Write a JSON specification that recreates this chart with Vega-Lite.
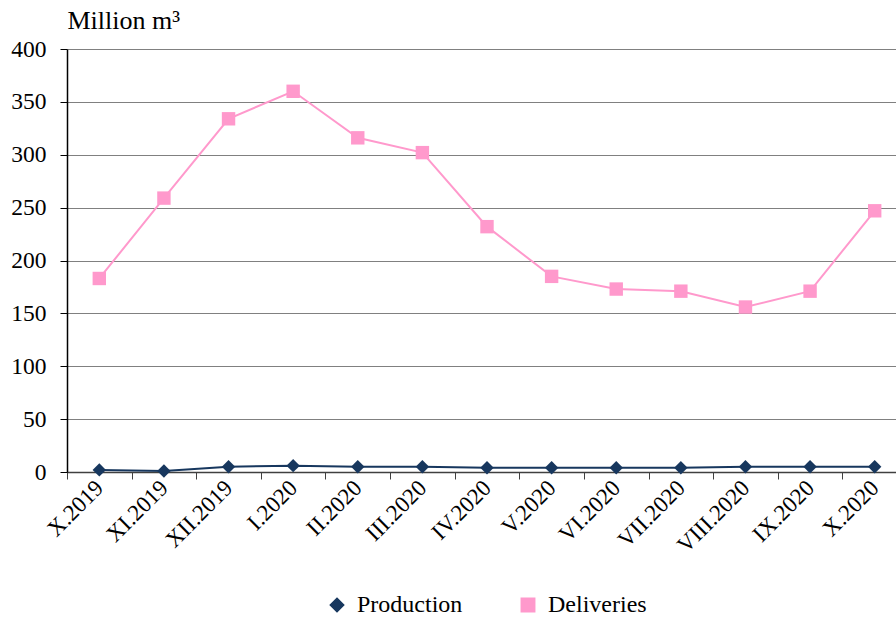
{
  "$schema": "https://vega.github.io/schema/vega-lite/v6.json",
  "autosize": "none",
  "width": 840,
  "height": 423,
  "padding": {"left": 67, "top": 49, "right": -11, "bottom": 146},
  "background": "white",
  "config": {
    "font": "Liberation Serif",
    "view": {"stroke": null},
    "axis": {"labelFont": "Liberation Serif", "titleFont": "Liberation Serif", "labelColor": "black", "titleColor": "black"},
    "legend": {"labelFont": "Liberation Serif"}
  },
  "data": {
    "values": [
      {"month": "X.2019", "series": "Production", "value": 2},
      {"month": "X.2019", "series": "Deliveries", "value": 183},
      {"month": "XI.2019", "series": "Production", "value": 1},
      {"month": "XI.2019", "series": "Deliveries", "value": 259},
      {"month": "XII.2019", "series": "Production", "value": 5},
      {"month": "XII.2019", "series": "Deliveries", "value": 334},
      {"month": "I.2020", "series": "Production", "value": 6},
      {"month": "I.2020", "series": "Deliveries", "value": 360},
      {"month": "II.2020", "series": "Production", "value": 5},
      {"month": "II.2020", "series": "Deliveries", "value": 316},
      {"month": "III.2020", "series": "Production", "value": 5},
      {"month": "III.2020", "series": "Deliveries", "value": 302},
      {"month": "IV.2020", "series": "Production", "value": 4},
      {"month": "IV.2020", "series": "Deliveries", "value": 232},
      {"month": "V.2020", "series": "Production", "value": 4},
      {"month": "V.2020", "series": "Deliveries", "value": 185},
      {"month": "VI.2020", "series": "Production", "value": 4},
      {"month": "VI.2020", "series": "Deliveries", "value": 173},
      {"month": "VII.2020", "series": "Production", "value": 4},
      {"month": "VII.2020", "series": "Deliveries", "value": 171},
      {"month": "VIII.2020", "series": "Production", "value": 5},
      {"month": "VIII.2020", "series": "Deliveries", "value": 156},
      {"month": "IX.2020", "series": "Production", "value": 5},
      {"month": "IX.2020", "series": "Deliveries", "value": 171},
      {"month": "X.2020", "series": "Production", "value": 5},
      {"month": "X.2020", "series": "Deliveries", "value": 247}
    ]
  },
  "encoding": {
    "x": {
      "field": "month",
      "type": "nominal",
      "sort": null,
      "scale": {"type": "band", "paddingInner": 0, "paddingOuter": 0},
      "axis": {
        "title": null,
        "labelAngle": -45,
        "labelFontSize": 23,
        "labelAlign": "right",
        "labelBaseline": "middle",
        "labelPadding": 5,
        "tickBand": "extent",
        "tickSize": 7,
        "tickColor": "#404040",
        "domainColor": "#404040",
        "domainWidth": 1.5,
        "grid": false
      }
    },
    "y": {
      "field": "value",
      "type": "quantitative",
      "scale": {"domain": [0, 400], "nice": false},
      "axis": {
        "values": [0, 50, 100, 150, 200, 250, 300, 350, 400],
        "title": "Million m³",
        "titleAngle": 0,
        "titleAlign": "left",
        "titleBaseline": "alphabetic",
        "titleX": 0,
        "titleY": -21,
        "titleFontSize": 26,
        "titleFontWeight": "normal",
        "labelFontSize": 23.5,
        "labelPadding": 14,
        "tickSize": 7,
        "tickColor": "black",
        "domainColor": "black",
        "domainWidth": 1.5,
        "gridColor": "#808080",
        "gridWidth": 1,
        "gridOpacity": 1
      }
    },
    "color": {
      "field": "series",
      "type": "nominal",
      "scale": {"domain": ["Production", "Deliveries"], "range": ["#17375E", "#FF99CC"]}
    }
  },
  "layer": [
    {
      "mark": {"type": "line", "strokeWidth": 2},
      "encoding": {
        "color": {
          "field": "series",
          "type": "nominal",
          "legend": {
            "orient": "none",
            "legendX": 258,
            "legendY": 544,
            "direction": "horizontal",
            "title": null,
            "labelFontSize": 24,
            "labelFont": "Liberation Serif",
            "labelColor": "black",
            "symbolSize": 180,
            "labelOffset": 8,
            "columnPadding": 53
          }
        }
      }
    },
    {
      "mark": {"type": "point", "filled": true, "opacity": 1, "size": 180},
      "encoding": {
        "shape": {
          "field": "series",
          "type": "nominal",
          "scale": {"domain": ["Production", "Deliveries"], "range": ["diamond", "square"]},
          "legend": null
        }
      }
    }
  ]
}
